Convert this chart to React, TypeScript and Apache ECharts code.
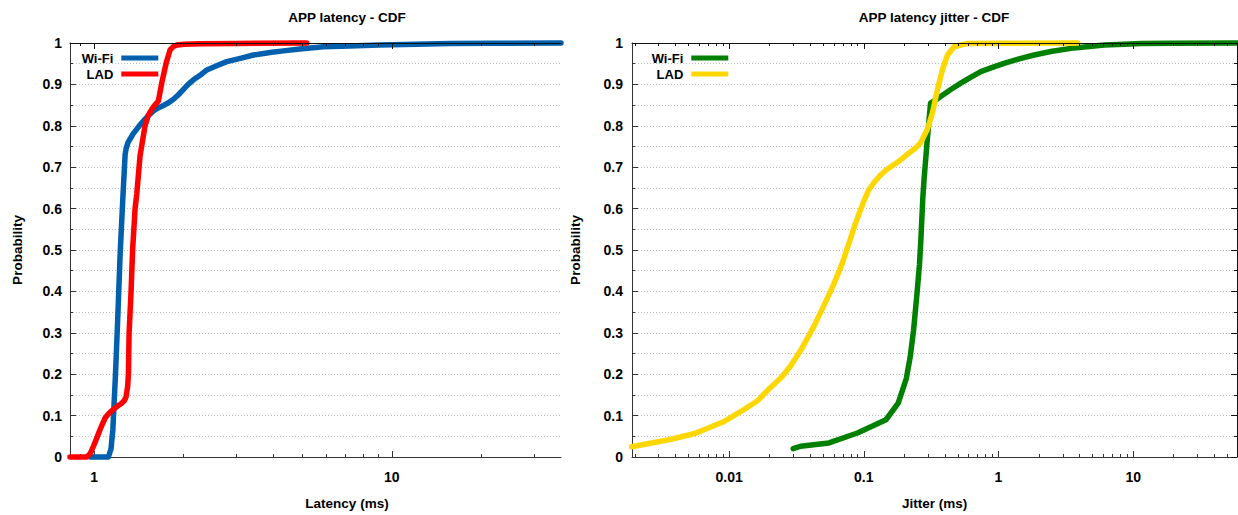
import React, { useEffect, useRef } from "react";
import * as echarts from "echarts";

// ---------- data ----------
// Left plot: APP latency CDF (x: latency in ms, y: probability)
const wifiLatX = [0.97, 1.02, 1.08, 1.117, 1.14, 1.156, 1.18, 1.2, 1.223, 1.25, 1.271, 1.281, 1.3, 1.321, 1.35, 1.391, 1.43, 1.483, 1.53, 1.582, 1.64, 1.709, 1.78, 1.847, 1.92, 1.996, 2.07, 2.156, 2.27, 2.391, 2.58, 2.79, 3.1, 3.43, 3.9, 4.32, 5.0, 5.89, 7.2, 9.1, 12, 15.7, 22, 37];
const wifiLatY = [0, 0, 0, 0, 0.02, 0.066, 0.2, 0.33, 0.49, 0.63, 0.73, 0.745, 0.76, 0.768, 0.78, 0.792, 0.803, 0.816, 0.826, 0.836, 0.843, 0.849, 0.856, 0.864, 0.875, 0.888, 0.9, 0.911, 0.922, 0.935, 0.945, 0.955, 0.963, 0.971, 0.977, 0.981, 0.986, 0.991, 0.993, 0.995, 0.997, 0.999, 0.9995, 1.0];
const ladLatX = [0.83, 0.9, 0.945, 0.97, 0.995, 1.02, 1.048, 1.07, 1.089, 1.12, 1.161, 1.2, 1.239, 1.265, 1.281, 1.296, 1.304, 1.311, 1.321, 1.331, 1.347, 1.373, 1.391, 1.427, 1.483, 1.52, 1.563, 1.6, 1.644, 1.688, 1.745, 1.799, 1.85, 1.896, 2.0, 2.27, 3.0, 5.18];
const ladLatY = [0, 0, 0, 0.008, 0.026, 0.045, 0.067, 0.082, 0.094, 0.105, 0.115, 0.123, 0.13, 0.137, 0.146, 0.17, 0.2, 0.3, 0.35, 0.4, 0.5, 0.6, 0.635, 0.728, 0.8, 0.825, 0.84, 0.85, 0.86, 0.904, 0.951, 0.983, 0.992, 0.995, 0.997, 0.998, 0.999, 1.0];

// Right plot: APP latency jitter CDF (x: jitter in ms, y: probability)
const wifiJitX = [0.0299, 0.0339, 0.0551, 0.0897, 0.146, 0.18, 0.207, 0.221, 0.234, 0.248, 0.259, 0.265, 0.274, 0.28, 0.296, 0.313, 0.34, 0.372, 0.44, 0.525, 0.62, 0.739, 0.9, 1.1, 1.4, 1.84, 2.5, 3.46, 4.5, 6.12, 8.5, 11.5, 20, 59];
const wifiJitY = [0.02, 0.026, 0.034, 0.058, 0.09, 0.13, 0.19, 0.242, 0.306, 0.393, 0.465, 0.522, 0.624, 0.67, 0.767, 0.855, 0.862, 0.871, 0.887, 0.903, 0.917, 0.931, 0.941, 0.951, 0.961, 0.971, 0.98, 0.987, 0.991, 0.995, 0.997, 0.999, 0.9995, 1.0];
const ladJitX = [0.00188, 0.00365, 0.00555, 0.009, 0.0128, 0.0163, 0.0194, 0.0247, 0.0286, 0.0339, 0.0425, 0.0504, 0.0597, 0.069, 0.0795, 0.0843, 0.0915, 0.1, 0.108, 0.119, 0.132, 0.149, 0.18, 0.21, 0.24, 0.264, 0.296, 0.323, 0.352, 0.383, 0.418, 0.468, 0.589, 1.0, 3.87];
const ladJitY = [0.0246, 0.0423, 0.0567, 0.0845, 0.114, 0.136, 0.162, 0.194, 0.22, 0.257, 0.315, 0.365, 0.417, 0.467, 0.527, 0.553, 0.585, 0.618, 0.643, 0.663, 0.68, 0.695, 0.713, 0.731, 0.745, 0.759, 0.791, 0.831, 0.887, 0.935, 0.971, 0.991, 0.999, 0.9995, 1.0];

// Tick positions
const latMajorTicks = [1, 10];
const latMinorTicks = [0.9, 2, 3, 4, 5, 6, 7, 8, 9, 20, 30];
const jitMajorTicks = [0.01, 0.1, 1, 10];
const jitMinorTicks = [
  0.002, 0.003, 0.004, 0.005, 0.006, 0.007, 0.008, 0.009,
  0.02, 0.03, 0.04, 0.05, 0.06, 0.07, 0.08, 0.09,
  0.2, 0.3, 0.4, 0.5, 0.6, 0.7, 0.8, 0.9,
  2, 3, 4, 5, 6, 7, 8, 9,
  20, 30, 40, 50,
];

const titles = ["APP latency - CDF", "APP latency jitter - CDF"];
const xNames = ["Latency (ms)", "Jitter (ms)"];
const yName = "Probability";

const FONT = '"Liberation Sans", Arial, Helvetica, sans-serif';
const AXIS_COLOR = "#333";
const BORDER_COLOR = "#111";

const zip = (xs: number[], ys: number[]) => xs.map((x, i) => [x, ys[i]]);
const fmtNum = (v: number) => String(Number(v.toPrecision(6)));

export default function App() {
  const ref = useRef<HTMLDivElement>(null);

  useEffect(() => {
    if (!ref.current) return;
    const chart = echarts.init(ref.current, undefined, { renderer: "svg" });

    const W = 1238;
    const grids = [
      { left: 70, right: W - 561, top: 43, bottom: 54 },
      { left: 632, right: 1, top: 43, bottom: 54 },
    ];
    const ranges = [
      { min: 0.83, max: 37 },
      { min: 0.0019, max: 59 },
    ];
    const majors = [latMajorTicks, jitMajorTicks];
    const minors = [latMinorTicks, jitMinorTicks];

    const xAxis: any[] = [];
    grids.forEach((_, g) => {
      const base = {
        type: "log",
        logBase: 10,
        gridIndex: g,
        min: ranges[g].min,
        max: ranges[g].max,
        splitLine: { show: false },
        minorTick: { show: false },
        minorSplitLine: { show: false },
      };
      xAxis.push({
        ...base,
        position: "bottom",
        axisLine: { show: true, lineStyle: { color: AXIS_COLOR, width: 1 } },
        axisTick: { show: true, inside: true, length: 6, customValues: majors[g], lineStyle: { color: AXIS_COLOR } },
        axisLabel: {
          show: true,
          customValues: majors[g],
          formatter: (v: number) => fmtNum(v),
          margin: 13,
          fontSize: 14,
          fontWeight: "bold",
          fontFamily: FONT,
          color: "#000",
        },
        name: xNames[g],
        nameLocation: "middle",
        nameGap: 39,
        nameTextStyle: {
          fontSize: 13.5,
          fontWeight: "bold",
          fontFamily: FONT,
          color: "#000",
          padding: g === 0 ? [0, 0, 0, 63] : [0, 0, 0, 0],
        },
      });
      xAxis.push({
        ...base,
        position: "bottom",
        axisLine: { show: false },
        axisTick: { show: true, inside: true, length: 3, customValues: minors[g], lineStyle: { color: AXIS_COLOR } },
        axisLabel: { show: false },
      });
      xAxis.push({
        ...base,
        position: "top",
        z: 10,
        axisLine: { show: true, lineStyle: { color: BORDER_COLOR, width: 1 } },
        axisTick: { show: true, inside: true, length: 6, customValues: majors[g], lineStyle: { color: BORDER_COLOR } },
        axisLabel: { show: false },
      });
      xAxis.push({
        ...base,
        position: "top",
        z: 10,
        axisLine: { show: false },
        axisTick: { show: true, inside: true, length: 3, customValues: minors[g], lineStyle: { color: BORDER_COLOR } },
        axisLabel: { show: false },
      });
    });

    const yBase = { type: "value", min: 0, max: 1, interval: 0.1 };
    const gridLine = { color: "#bdbdbd", type: [1, 2], width: 1 };
    const yAxis: any[] = [
      {
        ...yBase,
        gridIndex: 0,
        position: "left",
        axisLine: { show: true, lineStyle: { color: AXIS_COLOR } },
        axisTick: { show: true, inside: true, length: 6, lineStyle: { color: AXIS_COLOR } },
        minorTick: { show: true, splitNumber: 2, length: 3, lineStyle: { color: AXIS_COLOR } },
        splitLine: { show: true, lineStyle: gridLine },
        minorSplitLine: { show: true, lineStyle: gridLine },
        axisLabel: { margin: 8, fontSize: 14, fontWeight: "bold", fontFamily: FONT, color: "#000", formatter: (v: number) => fmtNum(v) },
        name: yName,
        nameLocation: "middle",
        nameGap: 46,
        nameTextStyle: { fontSize: 13.5, fontWeight: "bold", fontFamily: FONT, color: "#000" },
      },
      {
        ...yBase,
        gridIndex: 1,
        position: "left",
        axisLine: { show: true, lineStyle: { color: AXIS_COLOR } },
        axisTick: { show: true, inside: true, length: 6, lineStyle: { color: AXIS_COLOR } },
        minorTick: { show: true, splitNumber: 2, length: 3, lineStyle: { color: AXIS_COLOR } },
        splitLine: { show: true, lineStyle: gridLine },
        minorSplitLine: { show: true, lineStyle: gridLine },
        axisLabel: { margin: 9, fontSize: 14, fontWeight: "bold", fontFamily: FONT, color: "#000", formatter: (v: number) => fmtNum(v) },
        name: yName,
        nameLocation: "middle",
        nameGap: 50,
        nameTextStyle: { fontSize: 13.5, fontWeight: "bold", fontFamily: FONT, color: "#000" },
      },
      {
        ...yBase,
        gridIndex: 1,
        position: "right",
        z: 10,
        axisLine: { show: true, lineStyle: { color: BORDER_COLOR } },
        axisTick: { show: true, inside: true, length: 6, lineStyle: { color: BORDER_COLOR } },
        minorTick: { show: true, splitNumber: 2, length: 3, lineStyle: { color: BORDER_COLOR } },
        splitLine: { show: false },
        minorSplitLine: { show: false },
        axisLabel: { show: false },
      },
    ];

    const mkSeries = (name: string, data: number[][], color: string, g: number) => ({
      name,
      type: "line",
      xAxisIndex: g * 4,
      yAxisIndex: g,
      data,
      showSymbol: false,
      symbol: "none",
      clip: false,
      color,
      itemStyle: { color },
      lineStyle: { color, width: 5.5, cap: "round", join: "round" },
      z: 3,
    });

    const legendText = {
      fontSize: 13,
      fontWeight: "bold",
      fontFamily: FONT,
      color: "#000",
      lineHeight: 16,
      padding: [0, 3, 0, 0],
    };
    const mkLegend = (name: string, right: number, top: number) => ({
      data: [name],
      right,
      top,
      orient: "vertical",
      align: "right",
      icon: "rect",
      itemWidth: 37,
      itemHeight: 5,
      padding: 0,
      selectedMode: false,
      formatter: (n: string) => n.split(" ")[0],
      textStyle: legendText,
    });

    const titleStyle = { fontSize: 13.5, fontWeight: "bold", fontFamily: FONT, color: "#000" };
    const option: any = {
      animation: false,
      backgroundColor: "#fff",
      title: [
        { text: titles[0], left: 347, top: 10, textAlign: "center", padding: 0, textStyle: titleStyle },
        { text: titles[1], left: 934, top: 10, textAlign: "center", padding: 0, textStyle: titleStyle },
      ],
      legend: [
        mkLegend("Wi-Fi latency", W - 158.3, 50),
        mkLegend("LAD latency", W - 158.3, 66),
        mkLegend("Wi-Fi jitter", W - 728.3, 50),
        mkLegend("LAD jitter", W - 728.3, 66),
      ],
      grid: grids,
      xAxis,
      yAxis,
      series: [
        mkSeries("Wi-Fi latency", zip(wifiLatX, wifiLatY), "#0060ad", 0),
        mkSeries("LAD latency", zip(ladLatX, ladLatY), "#ff0000", 0),
        mkSeries("Wi-Fi jitter", zip(wifiJitX, wifiJitY), "#008000", 1),
        mkSeries("LAD jitter", zip(ladJitX, ladJitY), "#ffd700", 1),
      ],
    };

    chart.setOption(option);
    return () => chart.dispose();
  }, []);

  return (
    <div
      ref={ref}
      style={{ position: "fixed", left: 0, top: 0, width: 1238, height: 515, background: "#fff" }}
    />
  );
}
